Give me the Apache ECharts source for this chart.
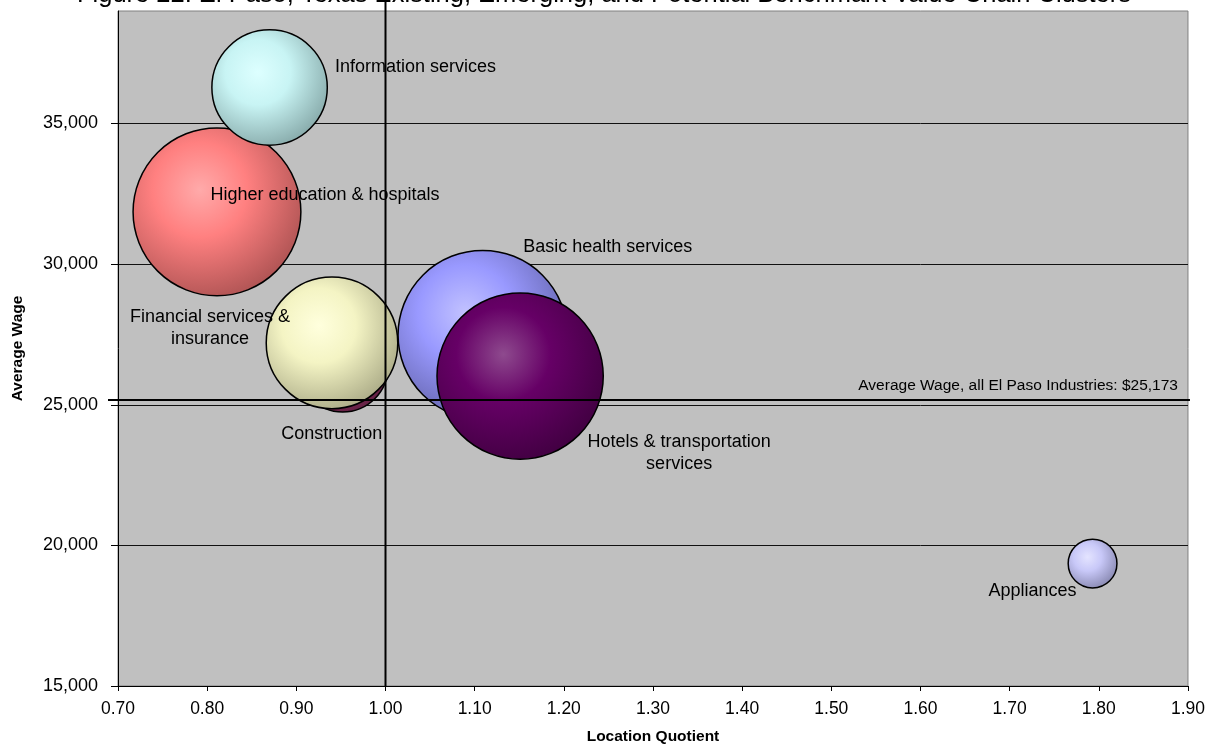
<!DOCTYPE html>
<html>
<head>
<meta charset="utf-8">
<title>El Paso Value Chain Clusters</title>
<script src="https://cdn.jsdelivr.net/npm/echarts@6/dist/echarts.min.js"></script>
<style>
  html, body { margin: 0; padding: 0; background: #ffffff; }
  #chart { width: 1208px; height: 750px; }
</style>
</head>
<body>
<div id="chart"></div>
<script>
// Cluster bubbles: location quotient (x), average wage (y), relative employment (bubble area)
const categories = [
  'Construction',
  'Financial services &\ninsurance',
  'Higher education & hospitals',
  'Information services',
  'Basic health services',
  'Hotels & transportation\nservices',
  'Appliances'
];
const locationQuotient = [0.952, 0.940, 0.811, 0.870, 1.109, 1.151, 1.793];
const averageWage      = [26350, 27200, 31860, 36280, 27480, 26020, 19355];
const bubbleSize       = [28.7, 60.4, 98.3, 46.5, 100, 96.5, 8.3];

const yTickValues = [15000, 20000, 25000, 30000, 35000];
const allIndustriesWage = 25173;
const lqBenchmark = 1.0;
const titleText = 'Figure 22: El Paso, Texas Existing, Emerging, and Potential Benchmark Value Chain Clusters';
const avgWageNote = 'Average Wage, all El Paso Industries: $25,173';

// Styling: gradient colours (highlight, base, rim) and label offsets from bubble centre
const palette = [
  ['#B8608A', '#993366', '#5E1F40'],
  ['#FFFFDD', '#F4F4C4', '#A6A683'],
  ['#FFAAAA', '#FF8080', '#A85050'],
  ['#DDFFFF', '#C8F4F4', '#82A4A4'],
  ['#C2C2FF', '#9999FF', '#5E5EA2'],
  ['#8E4A8E', '#660066', '#3E003E'],
  ['#E4E4FF', '#C8C8F8', '#8282AA']
];
const labelOffsets = [
  [-11, 67], [-122, -15], [108, -17], [146, -20], [125, -88], [159, 77], [-60, 28]
];

const GRID = { left: 118, right: 20, top: 11, bottom: 62 };
const maxDiameter = 0.25 * (750 - GRID.top - GRID.bottom);
const maxSize = Math.max.apply(null, bubbleSize);

function bubbleFill(c) {
  return {
    type: 'radial', x: 0.4, y: 0.37, r: 0.7,
    colorStops: [
      { offset: 0, color: c[0] },
      { offset: 0.4, color: c[1] },
      { offset: 1, color: c[2] }
    ]
  };
}

const seriesData = categories.map(function (name, i) {
  return {
    name: name,
    value: [locationQuotient[i], averageWage[i], bubbleSize[i]],
    itemStyle: { color: bubbleFill(palette[i]) }
  };
});

const chart = echarts.init(document.getElementById('chart'), null, { renderer: 'canvas' });
const FONT = 'Liberation Sans, Arial, sans-serif';

chart.setOption({
  animation: false,
  backgroundColor: '#ffffff',
  textStyle: { fontFamily: FONT },
  title: {
    text: titleText,
    left: 'center',
    top: -23,
    textStyle: { fontFamily: FONT, fontSize: 25.5, fontWeight: 'normal', color: '#000' }
  },
  grid: {
    left: GRID.left, right: GRID.right, top: GRID.top, bottom: GRID.bottom,
    show: true, backgroundColor: '#C0C0C0', borderColor: '#808080', borderWidth: 1
  },
  xAxis: {
    type: 'value',
    min: 0.7, max: 1.9, interval: 0.1,
    name: 'Location Quotient',
    nameLocation: 'middle',
    nameGap: 43,
    nameTextStyle: { fontFamily: FONT, fontSize: 15.5, fontWeight: 'bold', color: '#000' },
    axisLine: { show: true, onZero: false, lineStyle: { color: '#000', width: 1 } },
    axisTick: { show: true, length: 5, lineStyle: { color: '#000' } },
    axisLabel: {
      margin: 14, fontSize: 17.5, color: '#000', fontFamily: FONT,
      formatter: function (v) { return v.toFixed(2); }
    },
    splitLine: { show: false }
  },
  yAxis: {
    type: 'value',
    min: 15000, max: 39000, interval: 5000,
    name: 'Average Wage',
    nameLocation: 'middle',
    nameGap: 92,
    nameTextStyle: { fontFamily: FONT, fontSize: 15.5, fontWeight: 'bold', color: '#000' },
    axisLine: { show: true, onZero: false, lineStyle: { color: '#000', width: 1 } },
    axisTick: { show: true, length: 7, customValues: yTickValues, lineStyle: { color: '#000' } },
    axisLabel: {
      margin: 20, fontSize: 18, color: '#000', fontFamily: FONT,
      customValues: yTickValues,
      formatter: function (v) { return v.toLocaleString('en-US'); }
    },
    splitLine: { show: true, lineStyle: { color: '#111', width: 1 } }
  },
  series: [{
    type: 'scatter',
    clip: false,
    data: seriesData,
    symbol: 'circle',
    symbolSize: function (val) { return maxDiameter * Math.sqrt(val[2] / maxSize); },
    itemStyle: { borderColor: '#000', borderWidth: 1.5, opacity: 1 },
    label: {
      show: true,
      position: 'inside',
      formatter: '{b}',
      color: '#000',
      fontSize: 18,
      fontFamily: FONT,
      lineHeight: 22,
      align: 'center',
      verticalAlign: 'middle',
      textBorderWidth: 0
    },
    labelLayout: function (params) {
      const off = labelOffsets[params.dataIndex];
      return { dx: off[0], dy: off[1], hideOverlap: false };
    },
    emphasis: { disabled: true },
    z: 3
  }]
});

// Reference lines: LQ = 1.00 and the all-industry average wage, drawn across the plot edges
function drawReferenceLines() {
  const rect = chart.getModel().getComponent('grid').coordinateSystem.getRect();
  const px = chart.convertToPixel({ gridIndex: 0 }, [lqBenchmark, allIndustriesWage]);
  const x1 = Math.round(px[0]) + 0.5;
  const y1 = Math.round(px[1]);
  chart.setOption({
    graphic: [
      {
        type: 'line', z: 10, silent: true,
        shape: { x1: x1, y1: 0, x2: x1, y2: rect.y + rect.height },
        style: { stroke: '#000', lineWidth: 2 }
      },
      {
        type: 'line', z: 10, silent: true,
        shape: { x1: rect.x - 10, y1: y1, x2: rect.x + rect.width + 2, y2: y1 },
        style: { stroke: '#000', lineWidth: 2 }
      },
      {
        type: 'text', z: 10, silent: true,
        x: rect.x + rect.width - 10, y: y1 - 6,
        style: {
          text: avgWageNote, fill: '#000', font: '15.5px ' + FONT,
          textAlign: 'right', textVerticalAlign: 'bottom'
        }
      }
    ]
  });
}
drawReferenceLines();
</script>
</body>
</html>
